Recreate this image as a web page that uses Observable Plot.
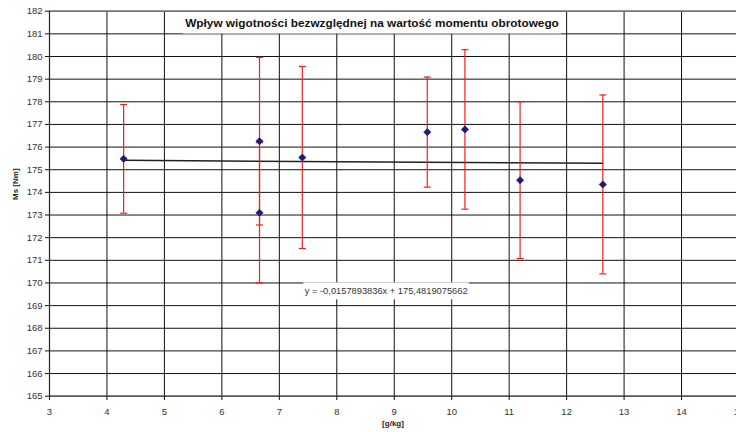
<!DOCTYPE html>
<html><head><meta charset="utf-8">
<script src="https://cdn.jsdelivr.net/npm/d3@7"></script>
<script src="https://cdn.jsdelivr.net/npm/@observablehq/plot@0.6"></script>
<style>
html,body{margin:0;padding:0;background:#fff;overflow:hidden}
</style></head><body><div id="chart"></div>
<script>
// data
const humidity = [4.29, 6.655, 6.655, 7.40, 9.575, 10.23, 11.19, 12.63];
const torque   = [175.48, 176.26, 173.10, 175.54, 176.66, 176.78, 174.54, 174.35];
const errors   = [2.40, 3.70, 3.10, 4.02, 2.43, 3.52, 3.46, 3.95];
const xTicks = [3,4,5,6,7,8,9,10,11,12,13,14,15];
const yTicks = [165,166,167,168,169,170,171,172,173,174,175,176,177,178,179,180,181,182];
const slope = -0.0157893836, intercept = 175.4819075662;
const titleText = "Wpływ wigotności bezwzględnej na wartość momentu obrotowego";
const equationText = "y = -0,0157893836x + 175,4819075662";
const xLabel = "[g/kg]";
const yLabel = "Ms [Nm]";

const idx = humidity.map((_, i) => i);
const trendX = [d3.min(humidity), d3.max(humidity)];
const capSymbol = { draw(ctx) { ctx.moveTo(-3.5, 0); ctx.lineTo(3.5, 0); } };

const chart = Plot.plot({
  width: 736, height: 432,
  marginLeft: 49, marginTop: 11, marginBottom: 36, marginRight: 0,
  x: {domain: [3, 15], range: [49, 738.5]},
  y: {domain: [165, 182], range: [395.7, 10.7]},
  style: {fontFamily: "'Liberation Sans', Arial, sans-serif", background: "#fff"},
  marks: [
    Plot.gridX(xTicks, {stroke: "#111", strokeOpacity: 1}),
    Plot.gridY(yTicks, {stroke: "#111", strokeOpacity: 1}),
    Plot.ruleY([165], {stroke: "#555", strokeWidth: 1.6}),
    Plot.ruleY([182], {stroke: "#777", strokeWidth: 1.4}),
    Plot.ruleX([3], {stroke: "#222", strokeWidth: 1.2}),
    Plot.axisY(yTicks, {tickSize: 4, tickPadding: 3, fontSize: 9.5, color: "#333", stroke: "#111", label: null}),
    Plot.axisX(xTicks, {tickSize: 4, tickPadding: 8, fontSize: 9.5, color: "#333", stroke: "#111", label: null}),
    Plot.line(trendX, {x: d => d, y: d => slope * d + intercept, stroke: "#222", strokeWidth: 1.5}),
    Plot.ruleX(idx, {x: i => humidity[i], y1: i => torque[i] - errors[i], y2: i => torque[i] + errors[i], stroke: "#ff1a1a", strokeWidth: 1.2}),
    Plot.dot(idx, {x: i => humidity[i], y: i => torque[i] + errors[i], symbol: capSymbol, stroke: "#ff1a1a", strokeWidth: 1.2}),
    Plot.dot(idx, {x: i => humidity[i], y: i => torque[i] - errors[i], symbol: capSymbol, stroke: "#ff1a1a", strokeWidth: 1.2}),
    Plot.dot(idx, {x: i => humidity[i], y: i => torque[i], symbol: "diamond2", r: 3.2, fill: "#1c1c73", stroke: "#1c1c73", strokeWidth: 0.8}),
    Plot.text([equationText], {x: () => 8.86, y: () => 169.65, fontSize: 9.3, fill: "#333", className: "boxed-eq"}),
    Plot.text([titleText], {frameAnchor: "top", dx: -21, dy: 11.5, lineAnchor: "middle", fontSize: 11.8, fontWeight: "bold", fill: "#111", className: "boxed-title"}),
    Plot.text([yLabel], {frameAnchor: "left", dx: -34, dy: -4, rotate: -90, fontSize: 8, fontWeight: "bold", fill: "#222"}),
    Plot.text([xLabel], {frameAnchor: "bottom", dy: 29, fontSize: 8, fontWeight: "bold", fill: "#222"})
  ]
});
document.getElementById("chart").appendChild(chart);

function addBox(cls, padX, h) {
  d3.select(chart).selectAll("g." + cls + " text").each(function () {
    const b = this.getBBox();
    const cy = b.y + b.height / 2;
    const rect = d3.select(this.parentNode).insert("rect", "text")
      .attr("x", b.x - padX).attr("width", b.width + 2 * padX)
      .attr("y", cy - h / 2).attr("height", h)
      .attr("fill", "#fff");
    const t = this.getAttribute("transform");
    if (t) rect.attr("transform", t);
  });
}
addBox("boxed-title", 2.5, 21.5);
addBox("boxed-eq", 1.5, 17);
</script>
</body></html>
